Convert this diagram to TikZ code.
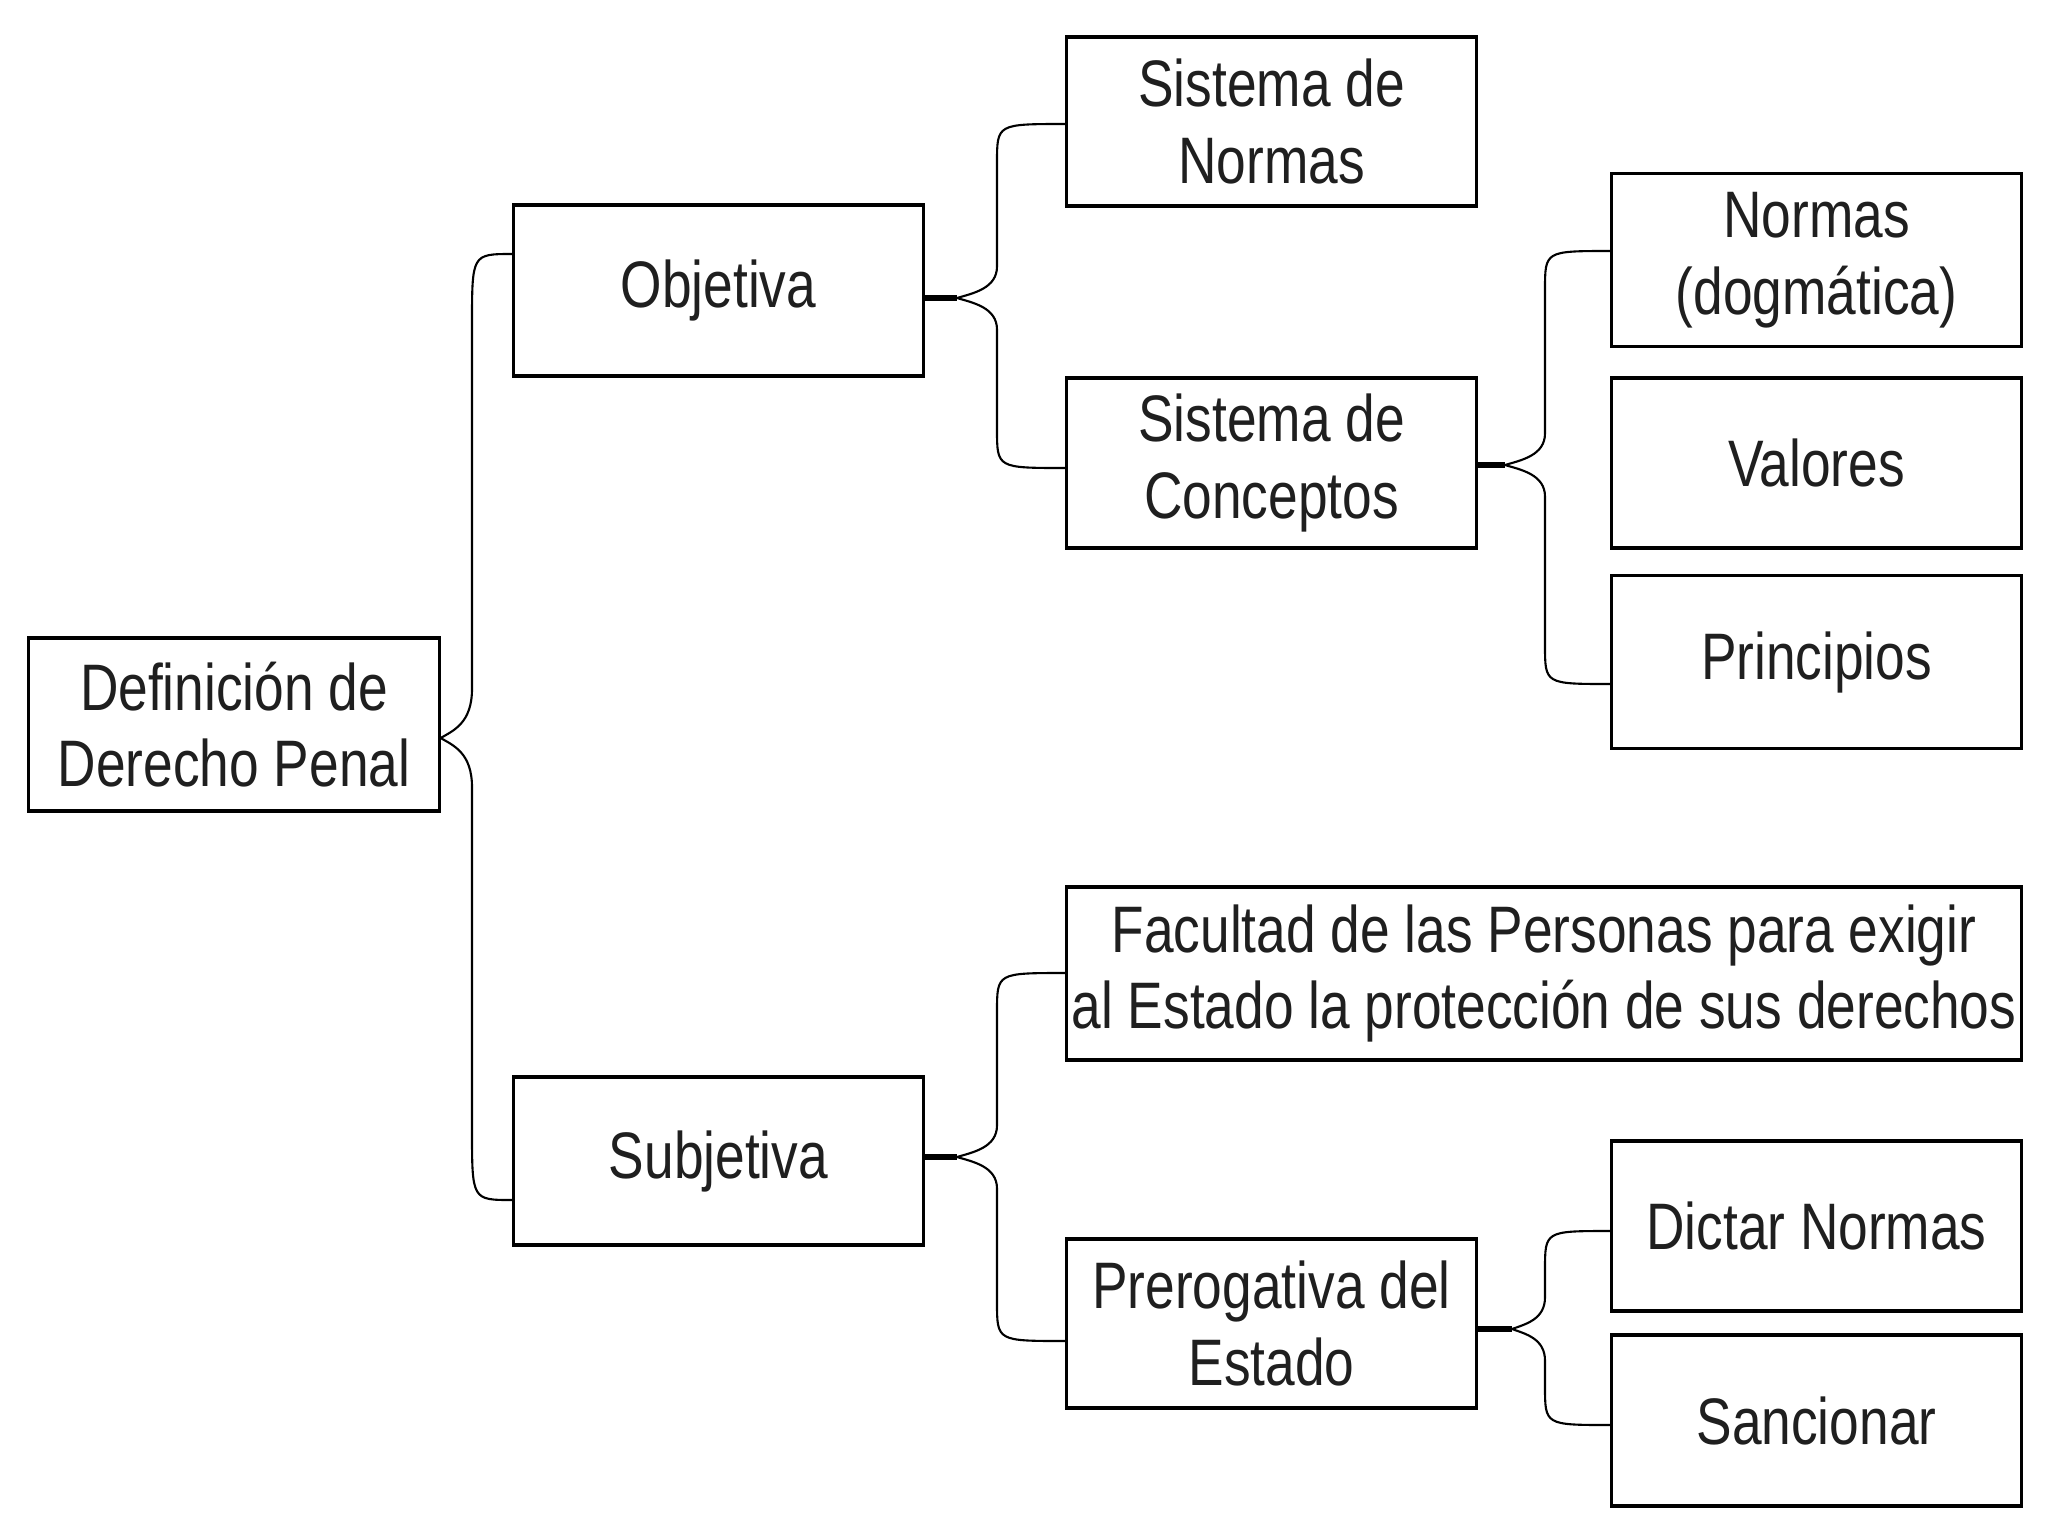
\documentclass[tikz,border=0pt]{standalone}
\usepackage{fontspec}
\setmainfont[FakeStretch=0.81]{Liberation Sans}
\usetikzlibrary{calc}
\tikzset{
  box/.style={draw=black, line width=0.9pt, inner sep=0pt, align=center,
    font=\fontsize{18.7}{21.8}\selectfont, text=black!88},
  link/.style={draw=black, line width=0.6pt},
  stubline/.style={draw=black, line width=1.5pt},
}
% #1 tip, #2 vertical x ref, #3 top end, #4 bottom end, #5 end-curve height (pt), #6 tip half height (pt)
\newcommand\curlylink[6]{%
  \draw[link] let \p1=(#1), \p2=(#3), \p3=(#4), \p4=(#2) in
   (\p2) .. controls (\x4,\y2) .. (\x4,{\y2-#5pt})
   -- (\x4,{\y1+#6pt})
   .. controls (\x4,{\y1+0.3*#6pt}) and ({\x1+0.4*(\x4-\x1)},{\y1+0.15*#6pt}) .. (\p1)
   .. controls ({\x1+0.4*(\x4-\x1)},{\y1-0.15*#6pt}) and (\x4,{\y1-0.3*#6pt}) .. (\x4,{\y1-#6pt})
   -- (\x4,{\y3+#5pt})
   .. controls (\x4,\y3) .. (\p3);
}
\begin{document}
\begin{tikzpicture}[x=0.01cm,y=-0.01cm]
\fill[white] (0,0) rectangle (2048,1536);
\useasboundingbox (0,0) rectangle (2048,1536);

\node[box, minimum width=4.10cm, minimum height=1.73cm] (def) at (234,724.5) {Definición de\\Derecho Penal};
\node[box, minimum width=4.09cm, minimum height=1.71cm] (obj) at (718.5,290.5) {Objetiva};
\node[box, minimum width=4.09cm, minimum height=1.68cm] (subj) at (718.5,1161) {Subjetiva};
\node[box, minimum width=4.09cm, minimum height=1.69cm] (sn) at (1271.5,121.5) {Sistema de\\Normas};
\node[box, minimum width=4.09cm, minimum height=1.70cm] (sc) at (1271.5,463) {Sistema de\\Conceptos};
\node[box, minimum width=4.09cm, minimum height=1.725cm] (nd) at (1816.5,260) {Normas\\(dogmática)};
\node[box, minimum width=4.09cm, minimum height=1.70cm] (va) at (1816.5,463) {Valores};
\node[box, minimum width=4.09cm, minimum height=1.725cm] (pr) at (1816.5,662) {Principios};
\node[box, minimum width=9.54cm, minimum height=1.73cm] (fa) at (1544,973.5) {Facultad de las Personas para exigir\\al Estado la protección de sus derechos};
\node[box, minimum width=4.09cm, minimum height=1.69cm] (pe) at (1271.5,1323.5) {Prerogativa del\\Estado};
\node[box, minimum width=4.09cm, minimum height=1.70cm] (dn) at (1816.5,1226) {Dictar Normas};
\node[box, minimum width=4.09cm, minimum height=1.71cm] (sa) at (1816.5,1420.5) {Sancionar};

\coordinate (t0) at (def.east |- 0,738);
\coordinate (v0) at (472,0);
\coordinate (a0) at (obj.west |- 0,254);
\coordinate (b0) at (subj.west |- 0,1200);

\coordinate (t1) at (957,298);
\coordinate (v1) at (997,0);
\coordinate (a1) at (sn.west |- 0,124);
\coordinate (b1) at (sc.west |- 0,468);

\coordinate (t2) at (1505,465);
\coordinate (v2) at (1545,0);
\coordinate (a2) at (nd.west |- 0,251);
\coordinate (b2) at (pr.west |- 0,684);

\coordinate (t3) at (957,1157);
\coordinate (v3) at (997,0);
\coordinate (a3) at (fa.west |- 0,973);
\coordinate (b3) at (pe.west |- 0,1341);

\coordinate (t4) at (1512,1329);
\coordinate (v4) at (1545,0);
\coordinate (a4) at (dn.west |- 0,1231);
\coordinate (b4) at (sa.west |- 0,1425);

\curlylink{t0}{v0}{a0}{b0}{20}{14}
\curlylink{t1}{v1}{a1}{b1}{11}{9}
\curlylink{t2}{v2}{a2}{b2}{11}{9}
\curlylink{t3}{v3}{a3}{b3}{11}{9}
\curlylink{t4}{v4}{a4}{b4}{11}{9}

\draw[stubline] (obj.east |- t1) -- (t1);
\draw[stubline] (sc.east |- t2) -- (t2);
\draw[stubline] (subj.east |- t3) -- (t3);
\draw[stubline] (pe.east |- t4) -- (t4);
\end{tikzpicture}
\end{document}
